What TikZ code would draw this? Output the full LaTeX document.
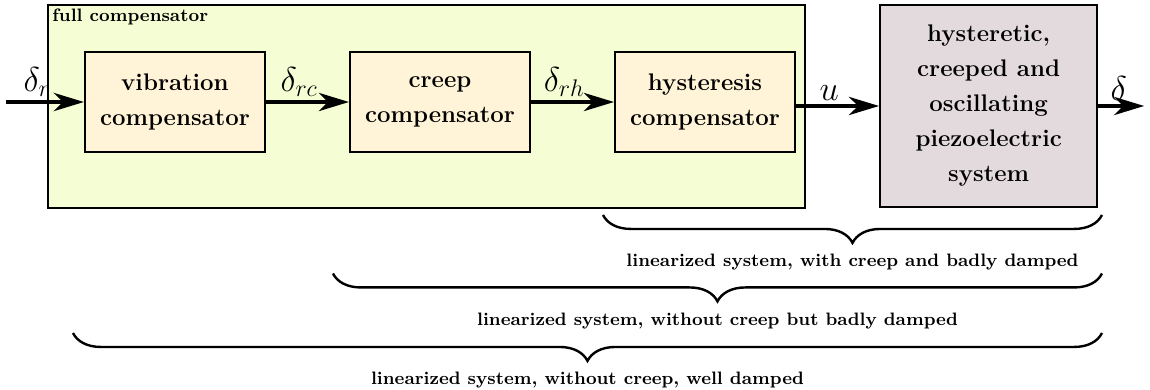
\documentclass[tikz,border=0pt]{standalone}
\usetikzlibrary{positioning,arrows.meta,decorations.pathreplacing}
\definecolor{compfill}{RGB}{245,253,212}
\definecolor{blockfill}{RGB}{255,244,215}
\definecolor{plantfill}{RGB}{226,218,220}
\begin{document}
\begin{tikzpicture}[
  blockbox/.style={draw, line width=1pt, fill=blockfill, align=center, minimum width=3.163cm, minimum height=1.757cm, font={\fontsize{12}{17.5}\selectfont\bfseries}},
  plantbox/.style={draw, line width=1pt, fill=plantfill, align=center, minimum width=3.814cm, minimum height=3.55cm, font={\fontsize{12}{17.5}\selectfont\bfseries}},
  compbox/.style={draw, line width=1pt, fill=compfill, minimum width=13.304cm, minimum height=3.568cm},
  sig/.style={line width=2.3pt, -{Stealth[length=15pt,width=9pt,inset=4.5pt]}},
  siglabel/.style={above, font=\LARGE, inner sep=1.5pt},
  curly/.style={line width=1.2pt, decorate, decoration={brace, mirror, amplitude=0.49cm}},
  curlylabel/.style={below=0.67cm, inner sep=0pt, font=\small\bfseries}
]
\useasboundingbox (0,0) rectangle (20.211,6.837);
\node[compbox] (full) at (7.496,4.965) {};
\node[anchor=north west, inner sep=2.5pt, font=\small\bfseries] (fulllabel) at (full.north west) {full compensator};
\node[blockbox] (vib) at (3.075,5.044) {vibration\\compensator};
\node[blockbox, right=1.46cm of vib] (creep) {creep\\compensator};
\node[blockbox, right=1.46cm of creep] (hyst) {hysteresis\\compensator};
\node[plantbox, right=1.46cm of hyst, yshift=-0.07cm] (plant) {hysteretic,\\creeped and\\oscillating\\piezoelectric\\system};
\coordinate[left=1.37cm of vib] (in);
\coordinate[right=0.81cm of plant] (out);
\draw[sig] (in) -- node[siglabel, pos=0.4] {$\delta_r$} (vib);
\draw[sig] (vib) -- node[siglabel, pos=0.4] {$\delta_{rc}$} (creep);
\draw[sig] (creep) -- node[siglabel, pos=0.4] {$\delta_{rh}$} (hyst);
\draw[sig] (hyst.east |- plant) -- node[siglabel, pos=0.4] {$u$} (plant);
\draw[sig] (plant) -- node[siglabel, pos=0.45] {$\delta$} (out);
\coordinate (b1l) at (10.598,3.058);
\coordinate (b2l) at (5.852,2.030);
\coordinate (b3l) at (1.283,0.984);
\coordinate (b1r) at (19.367,3.058);
\coordinate (b2r) at (19.367,2.030);
\coordinate (b3r) at (19.367,0.984);
\draw[curly] (b1l) -- node[curlylabel] {linearized system, with creep and badly damped} (b1r);
\draw[curly] (b2l) -- node[curlylabel] {linearized system, without creep but badly damped} (b2r);
\draw[curly] (b3l) -- node[curlylabel] {linearized system, without creep, well damped} (b3r);
\end{tikzpicture}
\end{document}
